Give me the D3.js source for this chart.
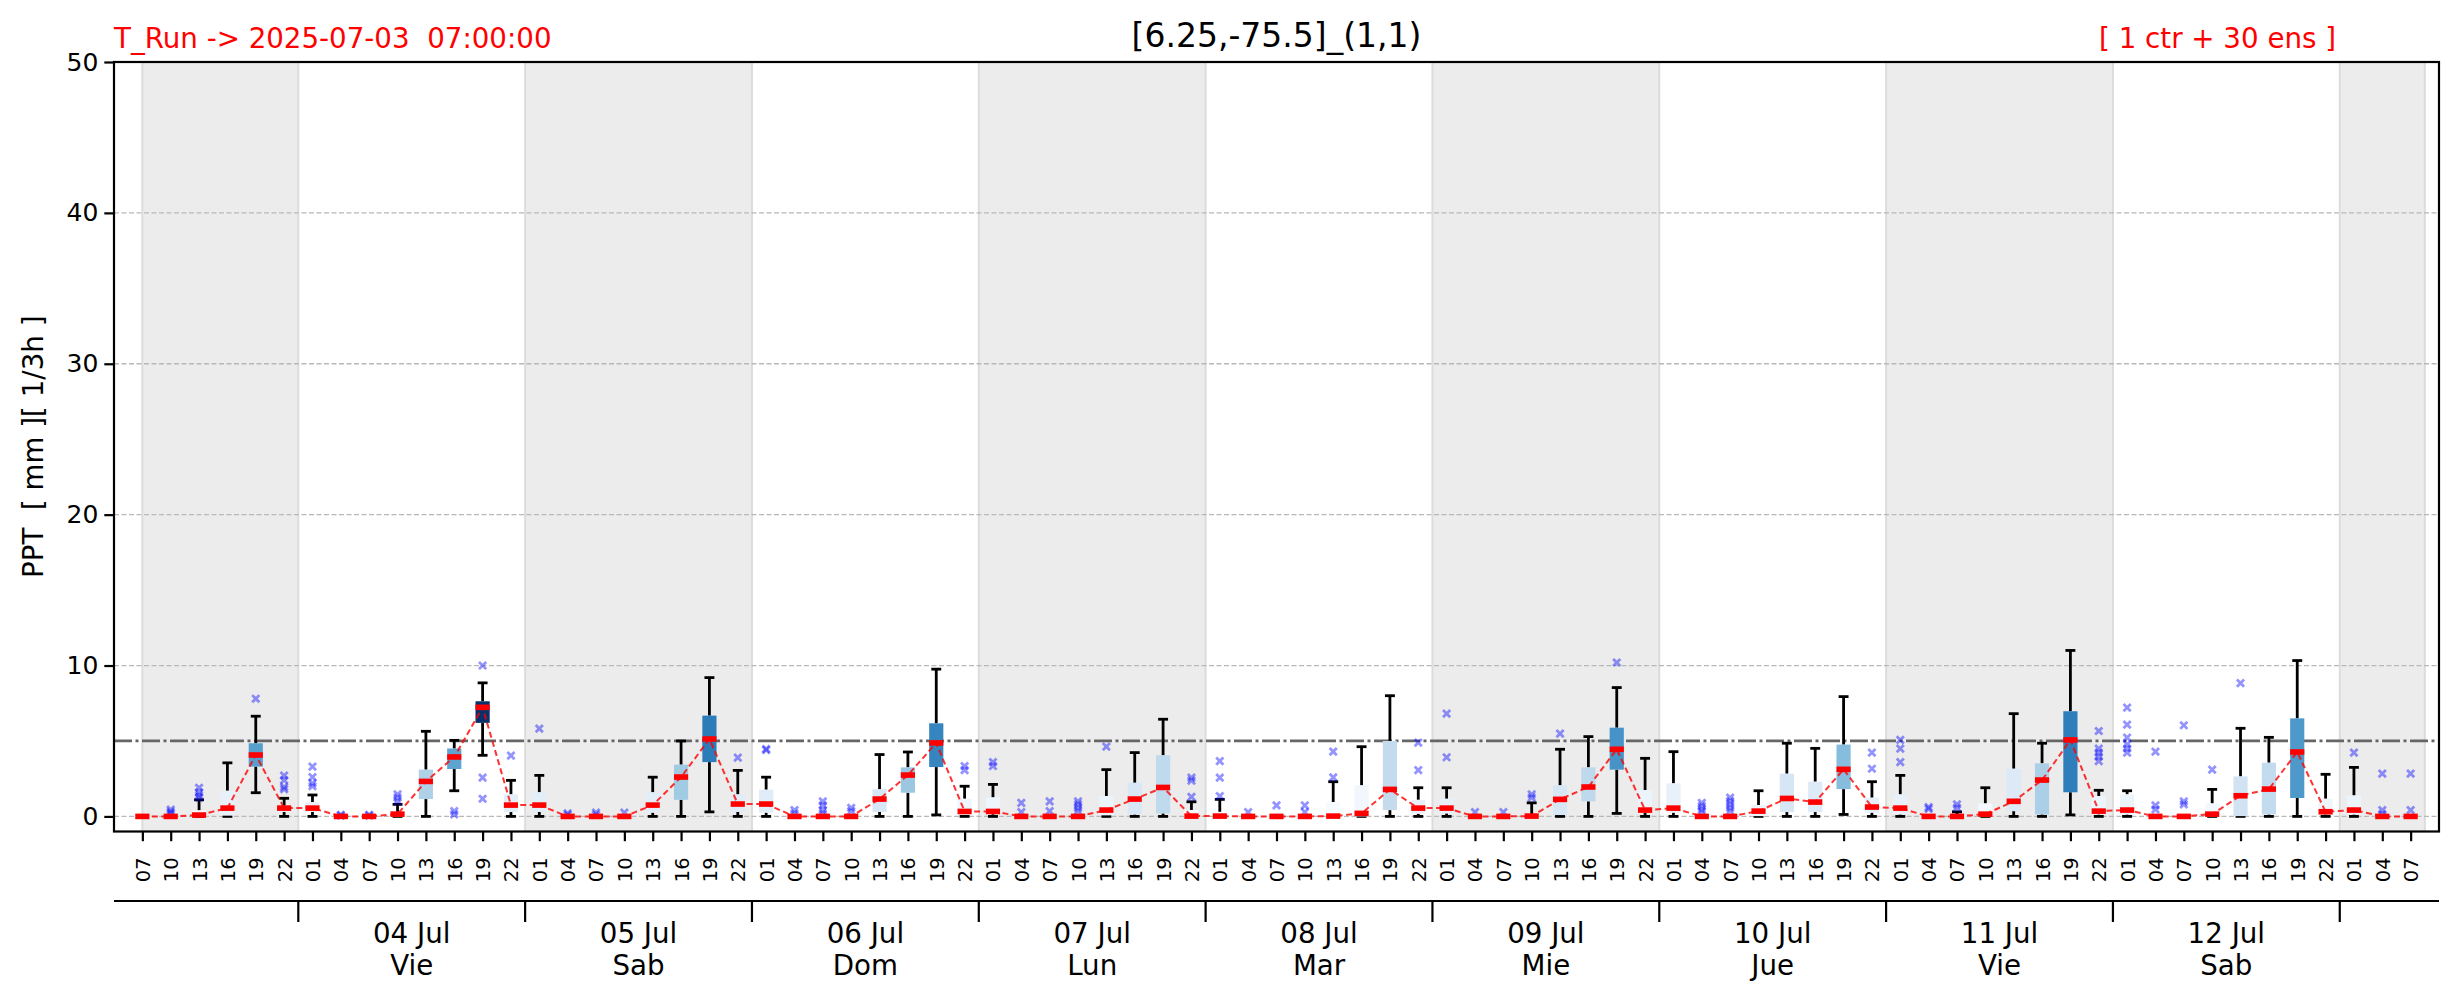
<!DOCTYPE html>
<html>
<head>
<meta charset="utf-8">
<script src="https://cdn.jsdelivr.net/npm/d3@7"></script>
<style>
  html, body { margin: 0; padding: 0; background: #fff; }
  svg { display: block; }
  text { font-family: "DejaVu Sans", sans-serif; white-space: pre; }
</style>
</head>
<body>
<div id="chart"></div>
<script>
// ---------------- data ----------------
const hours = ["07","10","13","16","19","22",
  "01","04","07","10","13","16","19","22",
  "01","04","07","10","13","16","19","22",
  "01","04","07","10","13","16","19","22",
  "01","04","07","10","13","16","19","22",
  "01","04","07","10","13","16","19","22",
  "01","04","07","10","13","16","19","22",
  "01","04","07","10","13","16","19","22",
  "01","04","07","10","13","16","19","22",
  "01","04","07","10","13","16","19","22",
  "01","04","07"];
const dayLabels = ["04 Jul","05 Jul","06 Jul","07 Jul","08 Jul","09 Jul","10 Jul","11 Jul","12 Jul"];
const weekdays  = ["Vie","Sab","Dom","Lun","Mar","Mie","Jue","Vie","Sab"];

const whiskerLow = [0,0,0,0,1.57,0, 0,0,0,0,0,1.7,4.05,0, 0,0,0,0,0,0,0.3,0, 0,0,0,0,0,0,0.1,0,
  0,0,0,0,0,0,0,0, 0,0,0,0,0,0,0,0, 0,0,0,0,0,0,0.2,0, 0,0,0,0,0,0,0.13,0, 0,0,0,0,0,0,0.1,0,
  0,0,0,0,0,0,0,0, 0,0,0];
const q1 = [0,0,0,0.05,3.3,0.3, 0.3,0,0,0,1.15,3.14,6.2,0.29, 0.3,0,0,0,0.25,1.1,3.6,0.3, 0.25,0,0,0,0.3,1.57,3.27,0.1,
  0.15,0,0,0,0.07,0.13,0.2,0, 0,0,0,0,0,0,0.42,0.18, 0.2,0,0,0,0.09,1.0,3.1,0.25, 0.25,0,0,0.02,0.29,0.29,1.81,0.25,
  0.13,0,0,0.02,0.35,0.13,1.6,0.13, 0.13,0,0,0.02,0.02,0.13,1.22,0.13, 0.13,0,0];
const median = [0,0,0.09,0.55,4.07,0.55, 0.55,0,0,0.15,2.32,3.94,7.23,0.75, 0.75,0,0,0,0.75,2.61,5.13,0.82, 0.82,0,0,0,1.15,2.74,4.87,0.33,
  0.33,0,0,0,0.42,1.15,1.92,0.02, 0.02,0,0,0,0.02,0.2,1.79,0.55, 0.55,0,0,0.02,1.13,1.95,4.45,0.42, 0.55,0,0,0.35,1.19,0.95,3.12,0.62,
  0.55,0,0,0.15,1.0,2.41,5.07,0.35, 0.42,0,0,0.15,1.37,1.81,4.27,0.31, 0.42,0,0];
const q3 = [0,0,0.4,1.7,4.85,0.7, 0.95,0,0,0.3,3.1,4.5,7.63,1.46, 1.6,0,0,0,1.6,3.43,6.68,1.46, 1.77,0,0,0,1.8,3.25,6.17,1.17,
  1.26,0,0,0,1.35,2.23,4.05,0.42, 0.3,0,0,0,0.95,2.06,5.0,1.1, 1.17,0,0,0.1,2.06,3.25,5.88,1.75, 2.19,0,0,0.75,2.83,2.3,4.76,1.24,
  1.46,0,0.05,0.86,3.16,3.52,6.97,1.35, 1.46,0,0,0.86,2.65,3.56,6.5,1.17, 1.39,0,0];
const whiskerHigh = [0,0.05,1.1,3.55,6.64,1.2, 1.42,0,0,0.8,5.64,5.04,8.85,2.39, 2.72,0,0,0,2.6,5.0,9.2,3.05, 2.6,0,0,0,4.1,4.27,9.76,2.0,
  2.12,0,0,0,3.1,4.23,6.44,0.97, 1.13,0,0,0,2.3,4.62,8.0,1.9, 1.9,0,0,0.9,4.45,5.29,8.54,3.85, 4.29,0,0.05,1.7,4.85,4.51,7.94,2.3,
  2.72,0.05,0.3,1.9,6.81,4.85,11.0,1.73, 1.7,0,0,1.79,5.84,5.24,10.33,2.79, 3.25,0,0];
const outliers = [
  [],[0.45,0.3,0.2],[1.9,1.6,1.4,1.25],[],[7.8],[2.7,2.4,1.95,1.8],
  [3.3,2.6,2.2,2.0],[0.1,0.05],[0.1,0.05],[1.46,1.24,1.0],[],[0.35,0.13],[10.0,2.57,1.17],[4.03],
  [5.82],[0.2,0.1],[0.25,0.1],[0.25],[],[],[],[3.9],
  [4.47,4.4],[0.42,0.2],[1.0,0.73,0.42,0.2],[0.57,0.35],[],[],[],[3.34,3.07],
  [3.6,3.34],[0.9,0.29],[1.0,0.35],[1.0,0.8,0.57,0.35],[4.62],[],[],[2.57,2.37,1.3],
  [3.67,2.57,1.35],[0.29],[0.73],[0.73,0.29],[4.29,2.59],[],[],[4.89,3.07],
  [6.81,3.92],[0.29],[0.29],[1.46,1.24],[5.49],[],[10.2],[],
  [],[0.9,0.69,0.46,0.3],[1.24,1.02,0.8,0.57,0.35],[],[],[],[],[4.23,3.16],
  [5.07,4.49,3.6],[0.62,0.5],[0.8,0.57],[],[],[],[],[5.66,4.49,4.23,3.96,3.67],
  [7.21,6.08,5.22,4.78,4.5,4.23],[4.29,0.73,0.46],[6.04,1.0,0.8],[3.1],[8.83],[],[],[],
  [4.23],[2.83,0.42,0.15],[2.83,0.42]
];
const yTicks = [0,10,20,30,40,50];
const threshold = 5;
const titleText = "[6.25,-75.5]_(1,1)";
const runText = "T_Run -> 2025-07-03  07:00:00";
const ensText = "[ 1 ctr + 30 ens ]";
const yLabel = "PPT  [ mm ][ 1/3h ]";

// ---------------- layout ----------------
const W = 2459, H = 1001;
const L = 114, R = 2439, T = 62, B = 831.5;
const n = hours.length;
const x = d3.scaleLinear().domain([-1, n]).range([L, R]);
const y = d3.scaleLinear().domain([-1, 50]).range([B, T]);
const bw = x(0.25) - x(0);   // half box width
const cw = x(0.175) - x(0);  // half cap width

const svg = d3.select("#chart").append("svg").attr("width", W).attr("height", H);
svg.append("rect").attr("width", W).attr("height", H).attr("fill", "#fff");

// day boundaries (between 22 and 01)
const bounds = [];
hours.forEach((h, i) => { if (h === "01") bounds.push(i - 0.5); });
const segs = [];
const edges = [0, ...bounds, n - 0.5];
for (let k = 0; k < edges.length - 1; k++) segs.push([edges[k], edges[k + 1]]);

const plot = svg.append("g");
// shaded alternate days
segs.forEach((s, k) => {
  if (k % 2 !== 0) return;
  plot.append("rect").attr("x", x(s[0])).attr("y", T).attr("width", x(s[1]) - x(s[0])).attr("height", B - T)
    .attr("fill", "#ececec");
  [s[0], s[1]].forEach(v => plot.append("line").attr("x1", x(v)).attr("x2", x(v)).attr("y1", T).attr("y2", B)
    .attr("stroke", "#dcdcdc").attr("stroke-width", 2));
});

// grid
yTicks.forEach(t => {
  plot.append("line").attr("x1", L).attr("x2", R).attr("y1", y(t)).attr("y2", y(t))
    .attr("stroke", "#b8b8b8").attr("stroke-width", 1.3).attr("stroke-dasharray", "5,2.5");
});
// threshold
plot.append("line").attr("x1", L).attr("x2", R).attr("y1", y(threshold)).attr("y2", y(threshold))
  .attr("stroke", "#666").attr("stroke-width", 2.8).attr("stroke-dasharray", "18,3.5,3,3.5");

const maxMed = d3.max(median);
const idx = d3.range(n);

// whiskers
const wg = plot.append("g").attr("stroke", "#000").attr("stroke-width", 2.8);
idx.forEach(i => {
  const cx = x(i);
  wg.append("line").attr("x1", cx).attr("x2", cx).attr("y1", y(q3[i])).attr("y2", y(whiskerHigh[i]));
  wg.append("line").attr("x1", cx).attr("x2", cx).attr("y1", y(q1[i])).attr("y2", y(whiskerLow[i]));
  wg.append("line").attr("x1", cx - cw).attr("x2", cx + cw).attr("y1", y(whiskerHigh[i])).attr("y2", y(whiskerHigh[i]));
  wg.append("line").attr("x1", cx - cw).attr("x2", cx + cw).attr("y1", y(whiskerLow[i])).attr("y2", y(whiskerLow[i]));
});
// boxes
plot.append("g").selectAll("rect").data(idx).join("rect")
  .attr("x", i => x(i) - bw).attr("width", 2 * bw)
  .attr("y", i => y(q3[i])).attr("height", i => Math.max(0, y(q1[i]) - y(q3[i])))
  .attr("fill", i => d3.interpolateBlues(median[i] / maxMed));

// outliers
const og = plot.append("g").attr("stroke", "blue").attr("stroke-opacity", 0.42).attr("stroke-width", 2.8).attr("fill", "none");
const s = 3.6;
idx.forEach(i => {
  outliers[i].forEach(v => {
    const cx = x(i), cy = y(v);
    og.append("path").attr("d", `M${cx - s},${cy - s}L${cx + s},${cy + s}M${cx - s},${cy + s}L${cx + s},${cy - s}`);
  });
});

// median line
plot.append("path").datum(idx)
  .attr("d", d3.line().x(i => x(i)).y(i => y(median[i])))
  .attr("fill", "none").attr("stroke", "red").attr("stroke-opacity", 0.8)
  .attr("stroke-width", 2).attr("stroke-dasharray", "6,3.5");
// median bars
plot.append("g").selectAll("rect").data(idx).join("rect")
  .attr("x", i => x(i) - bw).attr("width", 2 * bw)
  .attr("y", i => y(median[i]) - 2.8).attr("height", 5.6)
  .attr("fill", "red");

// axes frame
svg.append("rect").attr("x", L).attr("y", T).attr("width", R - L).attr("height", B - T)
  .attr("fill", "none").attr("stroke", "#000").attr("stroke-width", 2.2);

// y axis
const yAxis = d3.axisLeft(y).tickValues(yTicks).tickSize(9.7).tickPadding(6).tickFormat(d3.format("d"));
const yg = svg.append("g").attr("transform", `translate(${L},0)`).call(yAxis);
yg.select(".domain").remove();
yg.selectAll(".tick line").attr("stroke-width", 2.2);
yg.selectAll(".tick text").attr("font-size", 25).attr("font-family", "DejaVu Sans").attr("fill", "#000");

// x axis (hours)
const xAxis = d3.axisBottom(x).tickValues(idx).tickSize(9.7).tickFormat(i => hours[i]);
const xg = svg.append("g").attr("transform", `translate(0,${B})`).call(xAxis);
xg.select(".domain").remove();
xg.selectAll(".tick line").attr("stroke-width", 2.2);
xg.selectAll(".tick text")
  .attr("font-family", "DejaVu Sans Mono").attr("font-size", 19.4).attr("fill", "#000")
  .attr("text-anchor", "end").attr("transform", "rotate(-90)")
  .attr("x", -26).attr("y", 0).attr("dy", "0.36em");

// secondary day axis
const dg = svg.append("g");
dg.append("line").attr("x1", L).attr("x2", R).attr("y1", 901).attr("y2", 901).attr("stroke", "#000").attr("stroke-width", 2.2);
bounds.forEach(b => dg.append("line").attr("x1", x(b)).attr("x2", x(b)).attr("y1", 901).attr("y2", 922)
  .attr("stroke", "#000").attr("stroke-width", 2.2));
dayLabels.forEach((d, k) => {
  const cx = x((bounds[k] + bounds[k + 1]) / 2);
  dg.append("text").attr("x", cx).attr("y", 943).attr("text-anchor", "middle").attr("font-size", 27.7).text(d);
  dg.append("text").attr("x", cx).attr("y", 975).attr("text-anchor", "middle").attr("font-size", 27.7).text(weekdays[k]);
});

// titles
svg.append("text").attr("x", (L + R) / 2).attr("y", 47).attr("text-anchor", "middle").attr("font-size", 33).text(titleText);
svg.append("text").attr("x", L).attr("y", 47.5).attr("font-size", 27.7).attr("fill", "red").text(runText);
svg.append("text").attr("x", 2336).attr("y", 47.5).attr("text-anchor", "end").attr("font-size", 27.7).attr("fill", "red").text(ensText);
svg.append("text").attr("transform", `translate(43,${(T + B) / 2}) rotate(-90)`).attr("text-anchor", "middle")
  .attr("font-size", 27.7).text(yLabel);
</script>
</body>
</html>
